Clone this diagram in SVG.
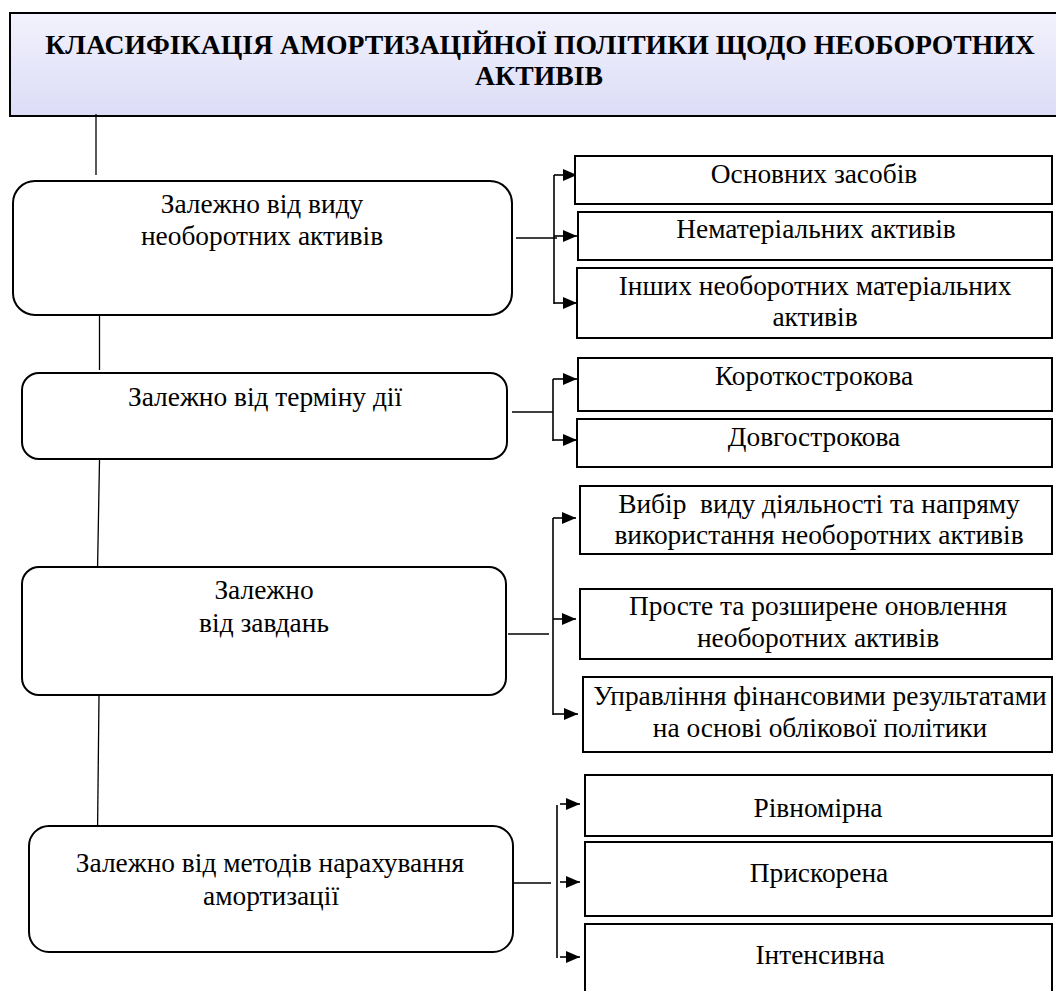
<svg xmlns="http://www.w3.org/2000/svg" width="1056" height="991" viewBox="0 0 1056 991">
<style>
.t{font-family:"Liberation Serif","Times New Roman","DejaVu Serif",serif;font-size:27.4px;fill:#000;text-anchor:middle}
.h{font-family:"Liberation Serif","Times New Roman","DejaVu Serif",serif;font-size:27.7px;font-weight:bold;fill:#000;text-anchor:middle}
.rb{fill:#fff;stroke:#000;stroke-width:2}
.bx{fill:#fff;stroke:#000;stroke-width:2}
.ln{fill:none;stroke:#000;stroke-width:1.6}
.tr{fill:none;stroke:#000;stroke-width:1.3}
.ar{fill:none;stroke:#000;stroke-width:1.6;marker-end:url(#ah)}
</style>
<defs>
<linearGradient id="g" x1="0" y1="0" x2="0" y2="1">
<stop offset="0" stop-color="#f2f2fd"/>
<stop offset="1" stop-color="#dcdcf7"/>
</linearGradient>
<marker id="ah" markerWidth="14" markerHeight="12" refX="14" refY="6" orient="auto" markerUnits="userSpaceOnUse">
<path d="M0,0 L14,6 L0,12 z" fill="#000"/>
</marker>
</defs>

<g id="title">
<rect x="10" y="13" width="1060" height="103" fill="url(#g)" stroke="#000" stroke-width="2"/>
<text class="h" x="540" y="54">КЛАСИФІКАЦІЯ АМОРТИЗАЦІЙНОЇ ПОЛІТИКИ ЩОДО НЕОБОРОТНИХ</text>
<text class="h" x="539" y="85">АКТИВІВ</text>
</g>

<g id="connectors">
<path class="tr" d="M96,114 V175"/>
<path class="tr" d="M99.5,316 V370"/>
<path class="tr" d="M99.5,460 L97.6,566"/>
<path class="tr" d="M99,696 L97.6,826"/>

<path class="ln" d="M516,238 H557"/>
<path class="ln" d="M554,175 V304"/>
<path class="ar" d="M554,175 H577"/>
<path class="ar" d="M554,236 H577"/>
<path class="ar" d="M554,303 H577"/>

<path class="ln" d="M512,412 H553"/>
<path class="ln" d="M553,379 V441"/>
<path class="ar" d="M553,379 H577"/>
<path class="ar" d="M553,440 H577"/>

<path class="ln" d="M508,634 H549"/>
<path class="ln" d="M553,518 V715"/>
<path class="ar" d="M553,518 H576"/>
<path class="ar" d="M553,619 H576"/>
<path class="ar" d="M553,714 H578"/>

<path class="ln" d="M513,883 H551"/>
<path class="ln" d="M557,805 V958"/>
<path class="ar" d="M560,804 H580"/>
<path class="ar" d="M560,882 H580"/>
<path class="ar" d="M560,957 H580"/>
</g>

<g id="n1">
<rect class="rb" x="13" y="181" width="499" height="134" rx="22"/>
<text class="t" x="262" y="213">Залежно від виду</text>
<text class="t" x="262" y="245">необоротних активів</text>
</g>
<g id="n1a">
<rect class="bx" x="575" y="156" width="477" height="48"/>
<text class="t" x="814" y="183">Основних засобів</text>
</g>
<g id="n1b">
<rect class="bx" x="578" y="212" width="474" height="48"/>
<text class="t" x="816" y="238">Нематеріальних активів</text>
</g>
<g id="n1c">
<rect class="bx" x="577" y="268" width="475" height="70"/>
<text class="t" x="815" y="295">Інших необоротних матеріальних</text>
<text class="t" x="815" y="326">активів</text>
</g>

<g id="n2">
<rect class="rb" x="22" y="373" width="485" height="86" rx="17"/>
<text class="t" x="265" y="406">Залежно від терміну дії</text>
</g>
<g id="n2a">
<rect class="bx" x="578" y="358" width="474" height="53"/>
<text class="t" x="814" y="385">Короткострокова</text>
</g>
<g id="n2b">
<rect class="bx" x="577" y="419" width="475" height="48"/>
<text class="t" x="814" y="446">Довгострокова</text>
</g>

<g id="n3">
<rect class="rb" x="22" y="567" width="484" height="128" rx="17"/>
<text class="t" x="264" y="599">Залежно</text>
<text class="t" x="264" y="632">від завдань</text>
</g>
<g id="n3a">
<rect class="bx" x="580" y="486" width="472" height="68"/>
<text class="t" x="819" y="513" xml:space="preserve">Вибір  виду діяльності та напряму</text>
<text class="t" x="819" y="544">використання необоротних активів</text>
</g>
<g id="n3b">
<rect class="bx" x="580" y="589" width="472" height="70"/>
<text class="t" x="818" y="615">Просте та розширене оновлення</text>
<text class="t" x="818" y="647">необоротних активів</text>
</g>
<g id="n3c">
<rect class="bx" x="583" y="677" width="469" height="75"/>
<text class="t" x="820" y="705">Управління фінансовими результатами</text>
<text class="t" x="820" y="737">на основі облікової політики</text>
</g>

<g id="n4">
<rect class="rb" x="29" y="826" width="484" height="126" rx="20"/>
<text class="t" x="270" y="872">Залежно від методів нарахування</text>
<text class="t" x="271" y="905">амортизації</text>
</g>
<g id="n4a">
<rect class="bx" x="585" y="775" width="467" height="61"/>
<text class="t" x="818" y="817">Рівномірна</text>
</g>
<g id="n4b">
<rect class="bx" x="585" y="842" width="467" height="74"/>
<text class="t" x="819" y="882">Прискорена</text>
</g>
<g id="n4c">
<rect class="bx" x="585" y="924" width="467" height="80"/>
<text class="t" x="820" y="964">Інтенсивна</text>
</g>
</svg>
